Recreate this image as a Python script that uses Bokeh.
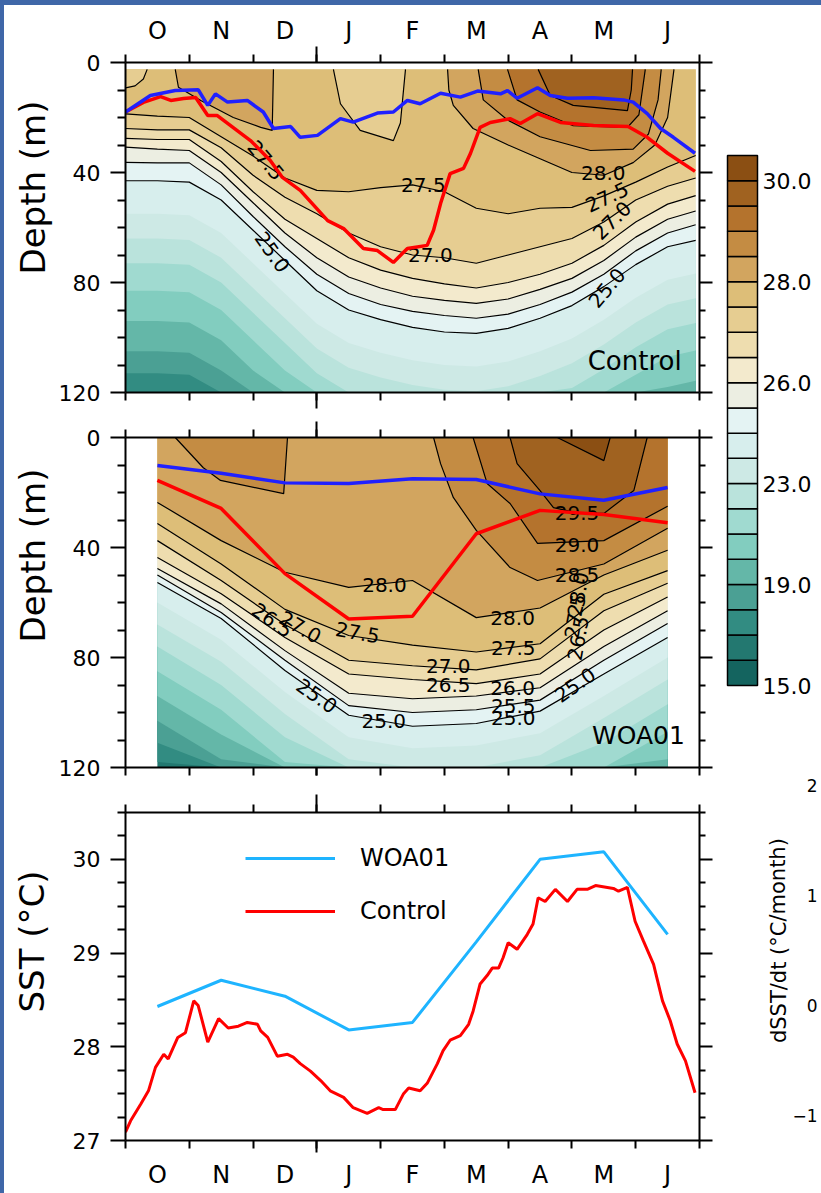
import numpy as np
from bokeh.plotting import figure
from bokeh.models import (LinearAxis, FixedTicker, Range1d, Label, Legend,
                          LegendItem, ColumnDataSource)
from bokeh.layouts import column, row
from bokeh.embed import file_html
from bokeh.resources import INLINE
from bokeh.core.properties import value

FONT = "DejaVu Sans"

# ---------------- axes / ticks ----------------
month_letters = ["O", "N", "D", "J", "F", "M", "A", "M", "J"]
month_centers = [0.5, 1.5, 2.5, 3.5, 4.5, 5.5, 6.5, 7.5, 8.5]
month_bounds = [0, 1, 2, 3, 4, 5, 6, 7, 8, 9]
year_bound = [3]
depth_major = [0, 40, 80, 120]
depth_minor = [10, 20, 30, 50, 60, 70, 90, 100, 110]
sst_major = [27, 28, 29, 30]
sst_minor = [27.25, 27.5, 27.75, 28.25, 28.5, 28.75, 29.25, 29.5, 29.75, 30.25, 30.5]
dsst_ticks = [2, 1, 0, -1]
dsst_tick_text = ["2", "1", "0", "\u22121"]
dsst_title = "dSST/dt (\u00b0C/month)"
title_text = ["Depth (m)", "Depth (m)", "SST (\u00b0C)"]

# ---------------- colour scale ----------------
levels = [15, 16, 17, 18, 19, 20, 21, 22, 23, 24, 25, 25.5, 26, 26.5, 27,
          27.5, 28, 28.5, 29, 29.5, 30, 30.5]
palette = ["#14645f", "#237870", "#328c82", "#4ba094", "#64b7a8", "#82cdbf",
           "#a0dad0", "#bae3dc", "#cde9e5", "#d7eeed", "#e4f3f3", "#eceee2",
           "#f3eacd", "#eeddaf", "#e6cd91", "#ddbe78", "#d2a55f", "#c48c43",
           "#b4732d", "#a06220", "#8b4f13"]
cbar_ticks = [0, 4, 8, 12, 16, 20]
cbar_text = ["15.0", "19.0", "23.0", "26.0", "28.0", "30.0"]

# ---------------- Control: isotherm depths (m) ----------------
ctl_m = [0, 0.5, 1, 1.5, 2, 2.5, 3, 3.5, 4, 4.5, 5, 5.5, 6, 6.5, 7, 7.5, 8, 8.5, 8.94]
ctl_top = 2.5
ctl_base = 17
ctl_t18 = [113, 113, 113.5, 120, 120, 120, 120, 120, 120, 120, 120, 120, 120, 120, 120, 120, 120, 120, 120]
ctl_t19 = [105, 105, 105.5, 112, 120, 120, 120, 120, 120, 120, 120, 120, 120, 120, 120, 120, 120, 120, 120]
ctl_t20 = [94, 94, 94.5, 101, 112, 120, 120, 120, 120, 120, 120, 120, 120, 120, 120, 120, 120, 118, 115.7]
ctl_t21 = [83, 83, 83.5, 90, 101, 112, 120, 120, 120, 120, 120, 120, 120, 120, 120, 120, 113.5, 107, 104.7]
ctl_t22 = [73, 73, 73.5, 80, 91, 102, 113, 120, 120, 120, 120, 120, 120, 120, 118.4, 111.5, 103.5, 97, 94.7]
ctl_t23 = [64, 64, 64.5, 71, 82, 93, 104, 111, 114.5, 117.3, 119, 119.5, 117.7, 114, 109.4, 102.5, 94.5, 88, 85.7]
ctl_t24 = [55, 55, 55.5, 62, 73, 84, 95, 102, 105.5, 108.3, 110, 110.5, 108.7, 105, 100.4, 93.5, 85.5, 79, 76.7]
ctl_t25 = [43, 43, 43.5, 50, 61, 72, 83, 90, 93.5, 96.3, 98, 98.5, 96.7, 93, 88.4, 81.5, 73.5, 67, 64.7]
ctl_t25_5 = [36.3, 36.5, 36.5, 44.5, 56, 67, 77, 84, 88, 90.5, 92, 93, 91.5, 88, 83.5, 77, 68.5, 62, 59]
ctl_t26 = [30.8, 31.5, 32, 40, 51, 62, 71, 78, 82, 85, 86.5, 87.6, 86, 82.5, 78.5, 72, 63.5, 57, 54]
ctl_t26_5 = [27.6, 28, 28, 36, 47, 57, 64, 71, 75.5, 78.5, 80.5, 82, 80, 77, 73, 66.5, 58, 51.5, 48.4]
ctl_t27 = [24, 24.5, 24.5, 31, 41, 49, 55, 62, 67, 70, 71, 73, 70, 67, 64, 58, 50, 45, 42]
ctl_t27_5 = [18.7, 19.5, 20, 27, 34, 42, 46.5, 47, 45.5, 44.5, 47, 53, 55, 53, 52.7, 48.5, 43.5, 38, 33.8]
# near-surface patches (closed against the surface)
ctl_nw_m = [0, 0.15, 0.28, 0.34]
ctl_nw_d = [9.2, 8.5, 6, 2.5]
ctl_u_m = [3.26, 3.37, 3.68, 4.2, 4.31, 4.39]
ctl_u_d = [2.5, 15, 24.7, 28.4, 22, 2.5]
ctl_w_m = [0.78, 0.83, 1.18, 1.69, 2.12, 2.3, 2.32]
ctl_w_d = [2.5, 9, 13.8, 20, 23.6, 24.7, 2.5]
ctl_r28_m = [5.05, 5.07, 5.14, 5.45, 6.0, 6.5, 7.0, 7.5, 7.96, 8.3, 8.5, 8.6]
ctl_r28_d = [2.5, 10, 15.6, 24, 30, 35, 40, 41, 36.4, 30, 20, 2.5]
ctl_r285_m = [5.53, 5.61, 5.99, 6.5, 7.29, 7.96, 8.2, 8.35, 8.4]
ctl_r285_d = [2.5, 13.6, 20.9, 27, 32, 31.5, 26, 13.6, 2.5]
ctl_r29_m = [5.99, 6.14, 6.5, 7.02, 7.87, 8.05, 8.15]
ctl_r29_d = [2.5, 13.6, 18, 23, 23.6, 19, 2.5]
ctl_r295_m = [6.47, 6.66, 7.02, 7.87, 7.93, 7.95]
ctl_r295_d = [2.5, 12, 15.6, 17.5, 10, 2.5]
# mixed layer (blue) and isothermal layer (red) depths
ctl_mld_m = [0.0, 0.39, 0.78, 1.14, 1.29, 1.41, 1.60, 1.91, 2.16, 2.32, 2.59, 2.74,
             3.01, 3.37, 3.57, 3.95, 4.20, 4.42, 4.62, 4.94, 5.25, 5.52, 5.88, 5.99,
             6.14, 6.46, 6.66, 6.93, 7.34, 7.81, 7.96, 8.18, 8.39, 8.59, 8.93]
ctl_mld_d = [18, 12, 10.2, 9.9, 15.6, 11.4, 14.4, 13.8, 18, 24, 23.3, 27.2, 26.5,
             20.4, 21.7, 18.4, 18, 13.8, 15, 11.2, 12.6, 10.4, 11.4, 10.2, 13, 9.2,
             12, 13, 12.8, 13.6, 14.4, 18.6, 24, 27.2, 33]
ctl_ild_m = [0, 0.28, 0.55, 0.71, 0.91, 1.10, 1.29, 1.44, 1.96, 2.27, 2.46, 2.74,
             3.17, 3.42, 3.73, 3.95, 4.20, 4.42, 4.73, 4.83, 4.94, 5.09, 5.30, 5.41,
             5.56, 5.72, 6.03, 6.19, 6.46, 6.82, 7.34, 7.88, 8.18, 8.50, 8.93]
ctl_ild_d = [18, 14.5, 12.4, 13.8, 13.1, 12.7, 19.3, 19.3, 28.4, 35.6, 41.8, 46.5,
             57.5, 60.4, 67.6, 68.4, 72.7, 67.6, 66.5, 61, 51.3, 40.4, 38.5, 33,
             23.6, 21.8, 20.4, 22.2, 18.6, 21.8, 22.9, 23.3, 27.2, 33, 39.6]
ctl_lab_text = ["27.5", "25.0", "27.5", "27.0", "28.0", "27.5", "27.0", "25.0"]
ctl_lab_m = [2.2, 2.3, 4.67, 4.78, 7.49, 7.55, 7.63, 7.55]
ctl_lab_d = [35.6, 69, 44.7, 70, 40, 49, 57.5, 82]
ctl_lab_ang = [-50, -55, 0, 0, 0, 25, 45, 50]

# ---------------- WOA01: isotherm depths (m) ----------------
woa_m = [0.5, 1.5, 2.5, 3.5, 4.5, 5.5, 6.5, 7.5, 8.5]
woa_top = 0
woa_base = 16
woa_t17 = [118, 120, 120, 120, 120, 120, 120, 120, 120]
woa_t18 = [111, 120, 120, 120, 120, 120, 120, 120, 120]
woa_t19 = [103, 117, 120, 120, 120, 120, 120, 120, 120]
woa_t20 = [94, 108, 120, 120, 120, 120, 120, 120, 117]
woa_t21 = [85, 99, 118, 120, 120, 120, 120, 120, 107]
woa_t22 = [76, 90, 109, 120, 120, 120, 120, 111, 97]
woa_t23 = [68, 81.5, 100.5, 117, 120, 120, 115.5, 102, 88]
woa_t24 = [60, 73.5, 92.5, 109, 113, 112, 107.5, 94, 80]
woa_t25 = [52.7, 65.8, 84.7, 101, 105, 104, 99.5, 86, 72.7]
woa_t25_5 = [50, 63.6, 81, 97.5, 100, 99, 95.5, 81, 67.6]
woa_t26 = [47.6, 60.5, 77.5, 93, 95, 94, 91, 76, 63]
woa_t26_5 = [43.6, 56.8, 72.7, 86, 88, 89.5, 86, 70, 58]
woa_t27 = [37.5, 52, 68, 81, 83, 84.5, 80.5, 63, 53]
woa_t27_5 = [31.3, 46, 62.5, 72, 75.5, 78, 75, 57, 48.4]
woa_t28 = [23.6, 37.5, 49, 54.5, 52, 65.5, 62, 50, 41]
woa_w_m = [0.78, 1.22, 1.49, 2.48, 2.54]
woa_w_d = [0, 11, 15.6, 20.4, 0]
woa_r285_m = [4.83, 4.94, 5.14, 5.5, 6.03, 6.46, 7.5, 8.5]
woa_r285_d = [0, 9.5, 21.8, 33.8, 47.3, 52, 46, 33]
woa_r29_m = [5.45, 5.67, 6.03, 6.46, 7.5, 8.5]
woa_r29_d = [0, 16.7, 24, 38.5, 37.5, 25]
woa_r295_m = [6.03, 6.14, 6.5, 6.71, 7.1, 7.5, 7.97, 8.18]
woa_r295_d = [0, 9.5, 19.3, 25.5, 27.5, 27.6, 19.3, 0]
woa_r30_m = [6.77, 7.5, 7.6]
woa_r30_d = [0, 8.4, 0]
woa_mld = [10.2, 13, 16.5, 16.7, 15, 15.3, 20.5, 22.8, 18.2]
woa_ild = [15.6, 25.8, 49.5, 66, 65, 35, 26.5, 28, 31]
woa_lab_text = ["28.0", "27.5", "27.0", "26.5", "25.0", "25.0", "28.0", "27.5", "27.0",
                "26.5", "26.0", "25.5", "25.0", "29.5", "29.0", "28.5", "28.0", "27.5",
                "26.5", "25.0"]
woa_lab_m = [4.06, 3.64, 2.74, 2.3, 3.0, 4.05, 6.07, 6.08, 5.06, 5.06, 6.07, 6.08, 6.08,
             7.08, 7.08, 7.08, 7.1, 7.05, 7.1, 7.05]
woa_lab_d = [53.8, 71, 69, 66.5, 94, 103, 65.8, 76.4, 83, 90, 91, 97.5, 102, 27.6, 39,
             50, 57, 65, 73, 90]
woa_lab_ang = [0, -10, -30, -35, -35, 0, 0, 0, 0, 0, 0, 0, 0, 0, 0, 0, 80, 80, 80, 35]

# ---------------- SST ----------------
woa_sst = [28.43, 28.71, 28.54, 28.18, 28.26, 29.12, 30.0, 30.08, 29.2]
ctl_sst_m = [0.00, 0.08, 0.24, 0.36, 0.47, 0.60, 0.67, 0.82, 0.94, 1.07, 1.14, 1.29,
             1.46, 1.61, 1.77, 1.91, 2.07, 2.12, 2.23, 2.38, 2.54, 2.63, 2.74, 2.90,
             3.06, 3.21, 3.42, 3.57, 3.79, 3.97, 4.04, 4.23, 4.36, 4.44, 4.62, 4.73,
             4.89, 4.98, 5.09, 5.25, 5.38, 5.45, 5.56, 5.67, 5.75, 5.85, 5.92, 6.00,
             6.14, 6.30, 6.39, 6.47, 6.58, 6.74, 6.93, 7.08, 7.24, 7.37, 7.65, 7.73,
             7.87, 7.99, 8.12, 8.28, 8.42, 8.54, 8.65, 8.78, 8.93]
ctl_sst = [27.09, 27.21, 27.39, 27.53, 27.78, 27.92, 27.87, 28.10, 28.15, 28.49, 28.44,
           28.05, 28.30, 28.20, 28.22, 28.26, 28.24, 28.17, 28.10, 27.90, 27.92, 27.89,
           27.82, 27.74, 27.64, 27.53, 27.46, 27.35, 27.29, 27.35, 27.33, 27.33, 27.50,
           27.56, 27.53, 27.61, 27.82, 27.96, 28.07, 28.12, 28.24, 28.38, 28.67, 28.76,
           28.84, 28.84, 28.95, 29.11, 29.04, 29.20, 29.31, 29.59, 29.55, 29.68, 29.55,
           29.68, 29.68, 29.72, 29.69, 29.66, 29.70, 29.34, 29.13, 28.88, 28.49, 28.28,
           28.03, 27.85, 27.51]

TOTAL_H = 1191


def band_color(t):
    return palette[levels.index(t)]


def style_axis(ax, tout, mout, labels=True, line=True, size="22px", standoff=10):
    ax.axis_line_color = "black" if line else None
    ax.axis_line_width = 2
    ax.major_tick_line_width = 2
    ax.minor_tick_line_width = 2
    ax.major_tick_line_color = "black" if tout > 0 else None
    ax.minor_tick_line_color = "black" if mout > 0 else None
    ax.major_tick_out = tout
    ax.major_tick_in = 0
    ax.minor_tick_out = mout
    ax.minor_tick_in = 0
    ax.major_label_text_font = FONT
    if labels:
        ax.major_label_text_color = "black"
        ax.major_label_text_font_size = size
        ax.major_label_standoff = standoff
    else:
        ax.major_label_text_color = None
        ax.major_label_text_font_size = "1px"
        ax.major_label_standoff = 0


def month_axes(p, side, long_tick, labelled=False, standoff=2):
    t = LinearAxis(ticker=FixedTicker(ticks=year_bound, minor_ticks=month_bounds))
    style_axis(t, long_tick, 8, labels=False)
    p.add_layout(t, side)
    if labelled:
        lab = LinearAxis(ticker=FixedTicker(ticks=month_centers, minor_ticks=[]),
                         major_label_overrides=dict(zip(month_centers, month_letters)))
        style_axis(lab, 0, 0, labels=True, line=False, size="24px", standoff=standoff)
        p.add_layout(lab, side)


def side_axes(p, major, minor):
    l = LinearAxis(ticker=FixedTicker(ticks=major, minor_ticks=minor))
    style_axis(l, 15, 8, labels=True, size="22px", standoff=10)
    p.add_layout(l, "left")
    r = LinearAxis(ticker=FixedTicker(ticks=major, minor_ticks=minor))
    style_axis(r, 13, 6, labels=False)
    p.add_layout(r, "right")


def bare_fig(w, h, xr, yr, top=0, bottom=0, left=0, right=0, frame_bg="white"):
    p = figure(frame_width=w, frame_height=h, min_border_left=left,
               min_border_right=right, min_border_top=top, min_border_bottom=bottom,
               x_range=xr, y_range=yr, x_axis_location=None, y_axis_location=None,
               toolbar_location=None, output_backend="svg",
               background_fill_color=frame_bg, border_fill_color=None,
               outline_line_color=None)
    p.grid.visible = False
    return p


def draw_field(p, months, top, base, shapes):
    p.quad(left=[months[0]], right=[months[-1]], top=[top], bottom=[120],
           fill_color=band_color(base), line_color=None)
    for band, xs, ds, has_line in shapes:
        px = list(xs) + [xs[-1], xs[0]]
        py = list(ds) + [top, top]
        p.patch(px, py, fill_color=band_color(band), line_color=None)
    for band, xs, ds, has_line in shapes:
        if has_line:
            p.line(xs, ds, line_color="black", line_width=1.2)


def draw_text(p, xs, ys, texts, angs, size, align="center", y_range_name="default"):
    src = ColumnDataSource(dict(x=xs, y=ys, text=texts,
                                angle=list(np.deg2rad(angs))))
    p.text(x="x", y="y", text="text", angle="angle", source=src,
           text_font=value(FONT), text_font_size=value(size), text_color="black",
           text_align=align, text_baseline="middle", y_range_name=y_range_name)


# ================= left title strip (pixel coordinates) =================
pt = bare_fig(53, TOTAL_H, Range1d(0, 53), Range1d(TOTAL_H, 0), frame_bg=None)
draw_text(pt, [32, 32, 31], [187, 555, 941], title_text, [90, 90, 90], "34px")

# ================= Control panel =================
pc = bare_fig(574, 330, Range1d(0, 9), Range1d(120, 0), top=62, bottom=22, left=72, right=14)
ctl_shapes = [
    (18, ctl_m, ctl_t18, False), (19, ctl_m, ctl_t19, False), (20, ctl_m, ctl_t20, False),
    (21, ctl_m, ctl_t21, False), (22, ctl_m, ctl_t22, False), (23, ctl_m, ctl_t23, False),
    (24, ctl_m, ctl_t24, False), (25, ctl_m, ctl_t25, True), (25.5, ctl_m, ctl_t25_5, True),
    (26, ctl_m, ctl_t26, True), (26.5, ctl_m, ctl_t26_5, True), (27, ctl_m, ctl_t27, True),
    (27.5, ctl_m, ctl_t27_5, True),
    (27, ctl_nw_m, ctl_nw_d, True), (27, ctl_u_m, ctl_u_d, True),
    (28, ctl_w_m, ctl_w_d, True), (28, ctl_r28_m, ctl_r28_d, True),
    (28.5, ctl_r285_m, ctl_r285_d, True), (29, ctl_r29_m, ctl_r29_d, True),
    (29.5, ctl_r295_m, ctl_r295_d, True),
]
draw_field(pc, ctl_m, ctl_top, ctl_base, ctl_shapes)
draw_text(pc, ctl_lab_m, ctl_lab_d, ctl_lab_text, ctl_lab_ang, "20px")
pc.line(ctl_ild_m, ctl_ild_d, line_color="#ff0000", line_width=3.5)
pc.line(ctl_mld_m, ctl_mld_d, line_color="#2020ff", line_width=3.5)
side_axes(pc, depth_major, depth_minor)
month_axes(pc, "above", 16, labelled=True, standoff=2)
month_axes(pc, "below", 16)
pc.add_layout(Label(x=8.72, y=108.4, text="Control", text_align="right",
                    text_baseline="middle", text_font=FONT, text_font_size="26px",
                    text_color="black"))

# ================= WOA01 panel =================
pw = bare_fig(574, 330, Range1d(0, 9), Range1d(120, 0), top=23, bottom=16, left=72, right=14)
woa_shapes = [
    (17, woa_m, woa_t17, False), (18, woa_m, woa_t18, False), (19, woa_m, woa_t19, False),
    (20, woa_m, woa_t20, False), (21, woa_m, woa_t21, False), (22, woa_m, woa_t22, False),
    (23, woa_m, woa_t23, False), (24, woa_m, woa_t24, False), (25, woa_m, woa_t25, True),
    (25.5, woa_m, woa_t25_5, True), (26, woa_m, woa_t26, True), (26.5, woa_m, woa_t26_5, True),
    (27, woa_m, woa_t27, True), (27.5, woa_m, woa_t27_5, True), (28, woa_m, woa_t28, True),
    (28.5, woa_w_m, woa_w_d, True), (28.5, woa_r285_m, woa_r285_d, True),
    (29, woa_r29_m, woa_r29_d, True), (29.5, woa_r295_m, woa_r295_d, True),
    (30, woa_r30_m, woa_r30_d, True),
]
draw_field(pw, woa_m, woa_top, woa_base, woa_shapes)
draw_text(pw, woa_lab_m, woa_lab_d, woa_lab_text, woa_lab_ang, "20px")
pw.line(woa_m, woa_ild, line_color="#ff0000", line_width=3.5)
pw.line(woa_m, woa_mld, line_color="#2020ff", line_width=3.5)
side_axes(pw, depth_major, depth_minor)
month_axes(pw, "above", 16)
month_axes(pw, "below", 8)
pw.add_layout(Label(x=8.77, y=108.4, text="WOA01", text_align="right",
                    text_baseline="middle", text_font=FONT, text_font_size="25px",
                    text_color="black"))

# ================= SST panel =================
ps = bare_fig(574, 328, Range1d(0, 9), Range1d(27, 30.5), top=29, bottom=51, left=72, right=14)
r_woa = ps.line(woa_m, woa_sst, line_color="#1eb4ff", line_width=3)
r_ctl = ps.line(ctl_sst_m, ctl_sst, line_color="#ff0000", line_width=3)
side_axes(ps, sst_major, sst_minor)
month_axes(ps, "above", 18)
month_axes(ps, "below", 12, labelled=True, standoff=8)
legend = Legend(items=[LegendItem(label="WOA01", renderers=[r_woa]),
                       LegendItem(label="Control", renderers=[r_ctl])],
                location=(120, 215), glyph_width=90, glyph_height=20, label_height=20,
                spacing=25, label_standoff=25, padding=10, margin=0,
                border_line_color=None, background_fill_alpha=0,
                label_text_font=FONT, label_text_font_size="24px",
                label_text_color="black")
ps.add_layout(legend)

# ================= right strip: colour bar + dSST/dt scale =================
# default y range: colour-bar box index; extra range: dSST/dt (degC/month)
pr = bare_fig(106, TOTAL_H, Range1d(0, 106), Range1d(-20.049, 27.142), frame_bg=None)
pr.extra_y_ranges = {"dsst": Range1d(-1.691, 9.136)}
cb_idx = list(range(len(palette)))
pr.quad(left=14, right=44, bottom=cb_idx, top=[i + 1 for i in cb_idx],
        fill_color=palette, line_color="black", line_width=1.5)
draw_text(pr, [49] * len(cbar_ticks), cbar_ticks, cbar_text, [0] * len(cbar_ticks),
          "22px", align="left")
draw_text(pr, [104] * len(dsst_ticks), dsst_ticks, dsst_tick_text,
          [0] * len(dsst_ticks), "17px", align="right", y_range_name="dsst")
draw_text(pr, [65], [0.59], [dsst_title], [90], "21px", y_range_name="dsst")

layout = row(pt, column(pc, pw, ps), pr)

html = file_html(layout, INLINE, title="Control vs WOA01")
html = html.replace(
    "</head>",
    "<style>html{background: linear-gradient(#3f67a8,#3f67a8) 0 0/100% 5px no-repeat, "
    "linear-gradient(#3f67a8,#3f67a8) 0 0/4px 100% no-repeat, #ffffff;}</style></head>", 1)
with open("out.html", "w") as f:
    f.write(html)
